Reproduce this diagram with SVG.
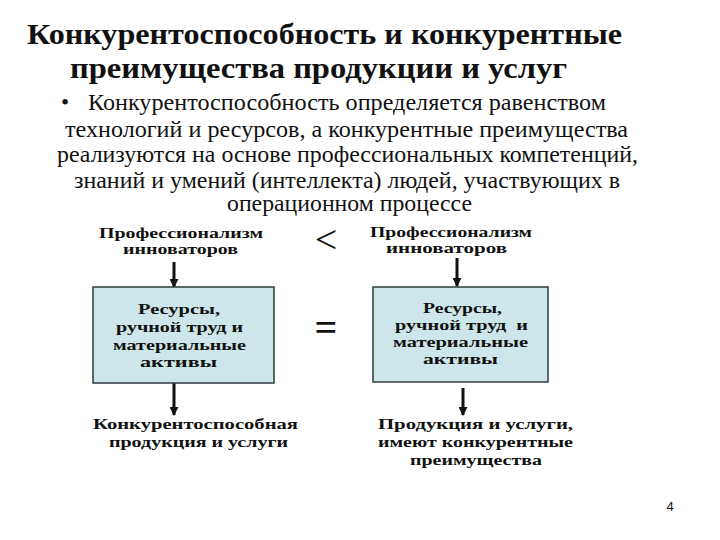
<svg xmlns="http://www.w3.org/2000/svg" width="720" height="540" viewBox="0 0 720 540">
<defs>
<style>
.title{font-family:"Liberation Serif","Times New Roman","DejaVu Serif",serif;font-weight:bold;font-size:29px;fill:#111}
.body{font-family:"Liberation Serif","Times New Roman","DejaVu Serif",serif;font-size:23px;fill:#111}
.lbl{font-family:"Liberation Serif","Times New Roman","DejaVu Serif",serif;font-weight:bold;font-size:15px;fill:#111}
.box{fill:#cde6e9;stroke:#2f3b3c;stroke-width:1.5}
.conn{stroke:#111;stroke-width:3;fill:none}
.op{font-family:"Liberation Serif","Times New Roman","DejaVu Serif",serif;font-size:40px;fill:#111;text-anchor:middle}
</style>
<marker id="ah" viewBox="0 0 10 10" refX="9" refY="5" markerWidth="3" markerHeight="3" orient="auto" markerUnits="strokeWidth">
<path d="M0,0 L10,5 L0,10 z" fill="#111"/>
</marker>
</defs>
<rect width="720" height="540" fill="#fff"/>
<g id="title">
<text class="title" x="27" y="44" textLength="595" lengthAdjust="spacingAndGlyphs">Конкурентоспособность и конкурентные</text>
<text class="title" x="70" y="78" textLength="497" lengthAdjust="spacingAndGlyphs">преимущества продукции и услуг</text>
</g>
<g id="bullet">
<text class="body" x="61" y="110">•</text>
<text class="body" x="88" y="110" textLength="518" lengthAdjust="spacingAndGlyphs">Конкурентоспособность определяется равенством</text>
<text class="body" x="65" y="137" textLength="563" lengthAdjust="spacingAndGlyphs">технологий и ресурсов, а конкурентные преимущества</text>
<text class="body" x="57" y="162" textLength="581" lengthAdjust="spacingAndGlyphs">реализуются на основе профессиональных компетенций,</text>
<text class="body" x="74" y="188" textLength="546" lengthAdjust="spacingAndGlyphs">знаний и умений (интеллекта) людей, участвующих в</text>
<text class="body" x="227" y="211" textLength="245" lengthAdjust="spacingAndGlyphs">операционном процессе</text>
</g>
<g id="connectors">
<line class="conn" x1="174" y1="262" x2="174" y2="287" marker-end="url(#ah)"/>
<line class="conn" x1="174" y1="383" x2="174" y2="415" marker-end="url(#ah)"/>
<line class="conn" x1="457" y1="258" x2="457" y2="286" marker-end="url(#ah)"/>
<line class="conn" x1="463" y1="388" x2="463" y2="415" marker-end="url(#ah)"/>
</g>
<g id="left-top">
<text class="lbl" x="99" y="238" textLength="164" lengthAdjust="spacingAndGlyphs">Профессионализм</text>
<text class="lbl" x="123" y="254" textLength="115" lengthAdjust="spacingAndGlyphs">инноваторов</text>
</g>
<g id="left-box">
<rect class="box" x="93" y="287" width="181" height="96"/>
<text class="lbl" x="138" y="314" textLength="82" lengthAdjust="spacingAndGlyphs">Ресурсы,</text>
<text class="lbl" x="116" y="332" textLength="127" lengthAdjust="spacingAndGlyphs">ручной труд и</text>
<text class="lbl" x="113" y="350" textLength="133" lengthAdjust="spacingAndGlyphs">материальные</text>
<text class="lbl" x="140" y="367" textLength="77" lengthAdjust="spacingAndGlyphs">активы</text>
</g>
<g id="left-bottom">
<text class="lbl" x="93" y="429" textLength="205" lengthAdjust="spacingAndGlyphs">Конкурентоспособная</text>
<text class="lbl" x="109" y="447" textLength="179" lengthAdjust="spacingAndGlyphs">продукция и услуги</text>
</g>
<g id="less">
<text class="op" x="326" y="253">&lt;</text>
</g>
<g id="equal">
<text class="op" x="326" y="341" font-weight="bold">=</text>
</g>
<g id="right-top">
<text class="lbl" x="370" y="237" textLength="162" lengthAdjust="spacingAndGlyphs">Профессионализм</text>
<text class="lbl" x="386" y="253" textLength="121" lengthAdjust="spacingAndGlyphs">инноваторов</text>
</g>
<g id="right-box">
<rect class="box" x="373" y="287" width="175" height="95"/>
<text class="lbl" x="423" y="313" textLength="79" lengthAdjust="spacingAndGlyphs">Ресурсы,</text>
<text class="lbl" x="395" y="330" textLength="133" lengthAdjust="spacingAndGlyphs" xml:space="preserve">ручной труд  и</text>
<text class="lbl" x="393" y="347" textLength="135" lengthAdjust="spacingAndGlyphs">материальные</text>
<text class="lbl" x="423" y="364" textLength="75" lengthAdjust="spacingAndGlyphs">активы</text>
</g>
<g id="right-bottom">
<text class="lbl" x="378" y="429" textLength="195" lengthAdjust="spacingAndGlyphs">Продукция и услуги,</text>
<text class="lbl" x="378" y="447" textLength="195" lengthAdjust="spacingAndGlyphs">имеют конкурентные</text>
<text class="lbl" x="410" y="465" textLength="132" lengthAdjust="spacingAndGlyphs">преимущества</text>
</g>
<text x="670" y="511" font-family="Liberation Sans, Arial, sans-serif" font-size="13" fill="#111" text-anchor="middle">4</text>
</svg>
